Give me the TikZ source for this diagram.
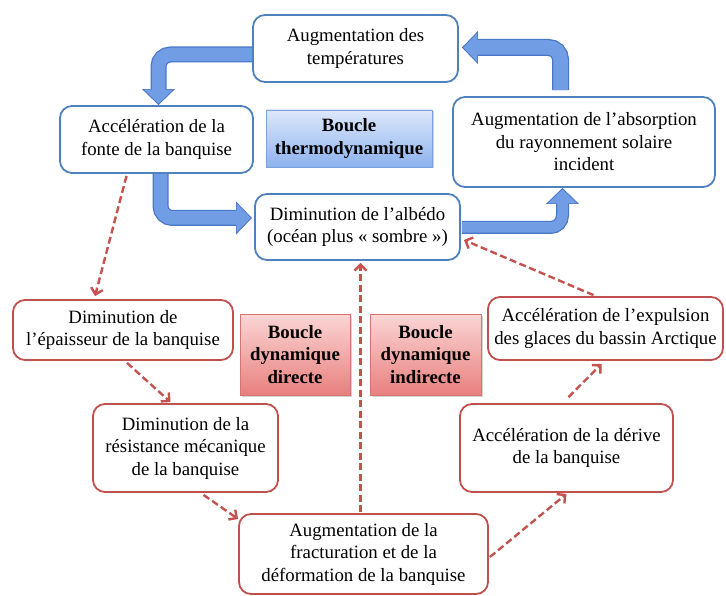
\documentclass[tikz,border=0pt]{standalone}
\usepackage{fontspec}
\setmainfont{Liberation Serif}
\usetikzlibrary{arrows.meta,calc,shadows}
\definecolor{bluebd}{HTML}{4F81BD}
\definecolor{redbd}{HTML}{C0504D}
\definecolor{reddash}{HTML}{C4524F}
\definecolor{arrowfill}{RGB}{112,157,228}
\definecolor{arrowedge}{RGB}{74,118,200}
\definecolor{bluetop}{HTML}{DDE8FB}
\definecolor{bluebot}{HTML}{8DB2EE}
\definecolor{blueloopbd}{HTML}{7EA2DC}
\definecolor{redtop}{HTML}{FAD6D5}
\definecolor{redbot}{HTML}{E8807E}
\definecolor{redloopbd}{HTML}{D77472}
\begin{document}
\begin{tikzpicture}[x=1pt,y=-1pt,
  sz/.style n args={2}{minimum width=#1pt,minimum height=#2pt},
  box/.style={draw, line width=1.8pt, rounded corners=12pt, fill=white, align=center,
    inner sep=0pt, font=\fontsize{18.8}{22.5}\selectfont},
  bluebox/.style={box, draw=bluebd},
  redbox/.style={box, draw=redbd},
  loopbox/.style={draw, line width=0.9pt, align=center, inner sep=0pt,
    font=\fontsize{18.8}{22.5}\selectfont\bfseries,
    drop shadow={shadow xshift=1.5pt, shadow yshift=-1.5pt, opacity=0.35}},
  blueloop/.style={loopbox, draw=blueloopbd, top color=bluetop, bottom color=bluebot},
  redloop/.style={loopbox, draw=redloopbd, top color=redtop, bottom color=redbot},
  fatA/.style={draw=arrowedge, line width=#1pt, rounded corners=12pt,
    -{Triangle[length=16pt 0 0, width=32pt 0 0]}},
  fatB/.style={draw=arrowfill, line width=#1pt, rounded corners=12pt, shorten >=1.4pt,
    -{Triangle[length=14pt 0 0, width=28pt 0 0]}},
  redarrow/.style={draw=reddash, line width=2.4pt, dash pattern=on 7pt off 3.5pt,
    -{Straight Barb[length=6pt 0 0, width=12pt 0 0]}}
]
\useasboundingbox (0,0) rectangle (726,596);

% nodes
\node[bluebox, sz={205}{67}] (temps) at (355.5,48.5) {Augmentation des\\températures};
\node[bluebox, sz={193}{67}] (accel) at (156.5,139.5) {Accélération de la\\fonte de la banquise};
\node[blueloop, sz={166}{57}] (boucleT) at (349,138.5) {Boucle\\thermodynamique};
\node[bluebox, sz={205}{66}] (albedo) at (357.5,227) {Diminution de l’albédo\\(océan plus «~sombre~»)};
\node[bluebox, sz={262}{90}] (absorp) at (584,142) {Augmentation de l’absorption\\du rayonnement solaire\\incident};

\node[redbox, sz={220}{60}] (epais) at (123,330) {Diminution de\\l’épaisseur de la banquise};
\node[redloop, sz={110}{81}] (boucleD) at (295,354.5) {Boucle\\dynamique\\directe};
\node[redbox, sz={185}{88}] (resist) at (185.5,448) {Diminution de la\\résistance mécanique\\de la banquise};
\node[redloop, sz={111}{81}] (boucleI) at (425.5,354.5) {Boucle\\dynamique\\indirecte};
\node[redbox, sz={235}{63}] (expuls) at (605.5,328.5) {Accélération de l’expulsion\\des glaces du bassin Arctique};
\node[redbox, sz={213}{88}] (derive) at (566.5,448) {Accélération de la dérive\\de la banquise};
\node[redbox, sz={249}{80}] (fract) at (363.5,554) {Augmentation de la\\fracturation et de la\\déformation de la banquise};

% thermodynamic loop (fat blue arrows)
\draw[fatA=16] ($(temps.west)+(0,6)$) -| ($(accel.north)+(2,0)$);
\draw[fatB=13.5] ($(temps.west)+(0,6)$) -| ($(accel.north)+(2,0)$);
\draw[fatA=16] ($(accel.south)+(4,0)$) |- ($(albedo.west)+(-2,-9)$);
\draw[fatB=13.5] ($(accel.south)+(4,0)$) |- ($(albedo.west)+(-2,-9)$);
\draw[fatA=13] ($(albedo.east)+(1,0.5)$) -| ($(absorp.south)+(-21.5,0)$);
\draw[fatB=10.5] ($(albedo.east)+(1,0.5)$) -| ($(absorp.south)+(-21.5,0)$);
\draw[fatA=17] ($(absorp.north)+(-23.5,-6)$) |- ($(temps.east)+(3,-1)$);
\draw[fatB=14.5] ($(absorp.north)+(-23.5,-6)$) |- ($(temps.east)+(3,-1)$);

% dynamic loops (red dashed arrows)
\draw[redarrow] ($(accel.south)+(-30,2)$) -- ($(epais.north)+(-28,-3)$);
\draw[redarrow] ($(epais.south)+(4,2)$) -- ($(resist.north)+(-15,-1)$);
\draw[redarrow] ($(resist.south)+(18,2)$) -- ($(fract.west)+(0,-35)$);
\draw[redarrow] ($(fract.north)+(-3,-1)$) -- ($(albedo.south)+(3,2)$);
\draw[redarrow] ($(fract.east)+(1,3)$) -- ($(derive.south)+(0,1)$);
\draw[redarrow] ($(derive.north)+(2,-6)$) -- ($(expuls.south)+(-4,3)$);
\draw[redarrow] ($(expuls.north)+(-12,-1)$) -- ($(albedo.east)+(3,13)$);
\end{tikzpicture}
\end{document}
